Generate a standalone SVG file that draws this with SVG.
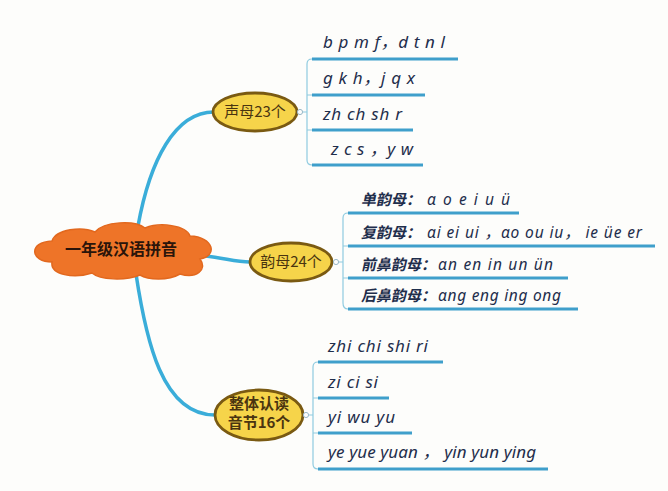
<svg xmlns="http://www.w3.org/2000/svg" width="668" height="491" viewBox="0 0 668 491">
<defs>
<style>
.bg{fill:#fdfdfb}
.branch{fill:none;stroke:#3aadd9;stroke-width:3.5;stroke-linecap:round}
.brk{fill:none;stroke:#8fcbe0;stroke-width:1.2}
.ul{stroke:#3f9fcb;stroke-width:3;stroke-linecap:butt}
.dot{fill:#fdfdfb;stroke:#9ab8c8;stroke-width:1}
.ell{fill:#f6d44a;stroke:#7a5a12;stroke-width:2.8}
.elt{font-family:"Noto Sans CJK SC","Noto Sans",sans-serif;font-size:15px;fill:#4a3410;text-anchor:middle}
.cloud{fill:#ee7428;stroke:#e2681e;stroke-width:1.5}
.ct{font-family:"Noto Sans CJK SC",sans-serif;font-size:16px;font-weight:bold;fill:#2a140a;text-anchor:middle}
.pt{font-family:"Noto Sans","Noto Sans CJK SC",sans-serif;font-style:italic;fill:#1f2e4c}
.cn{font-family:"Noto Sans CJK SC",sans-serif;font-size:15px;font-weight:bold;fill:#1f2e4c}
.big{font-size:17px}
.mid{font-size:15.5px}
</style>
</defs>
<rect class="bg" x="0" y="0" width="668" height="491"/>
<g id="connectors">
<path class="branch" d="M138,226 C150,160 175,112 214,112"/>
<path class="branch" d="M205,256 C225,258 235,262 250,262"/>
<path class="branch" d="M136,274 C146,340 162,415 215,415"/>
<path class="brk" d="M303,112 L307,112 M312,59 Q307,59 307,64 L307,160 Q307,165 312,165 M307,95 L312,95 M307,130 L312,130"/>
<path class="brk" d="M339,262 L343,262 M348,213 Q343,213 343,218 L343,303 Q343,309 348,309 M343,246 L348,246 M343,278 L348,278"/>
<path class="brk" d="M309,415 L313,415 M318,362 Q313,362 313,367 L313,464 Q313,469 318,469 M313,398 L318,398 M313,433 L318,433"/>
</g>
<g id="root">
<path class="cloud" d="M52,262 C30,262 28,242 52,241 C56,229 82,226 95,232 C104,221 135,220 145,228 C160,222 186,225 190,236 C214,237 218,256 200,259 C208,270 196,279 180,274 C168,281 148,280 140,275 C125,281 100,280 92,273 C74,279 50,275 52,262 Z"/>
<text class="ct" x="121" y="255">一年级汉语拼音</text>
</g>
<g id="shengmu">
<ellipse class="ell" cx="255" cy="112" rx="42" ry="19"/>
<text class="elt" x="255" y="117">声母23个</text>
<circle class="dot" cx="300" cy="112" r="2.6"/>
</g>
<g id="shengmu-items">
<line class="ul" x1="312" y1="59" x2="458" y2="59"/>
<text class="pt big" x="323" y="48" textLength="122" lengthAdjust="spacing">b p m f，d t n l</text>
<line class="ul" x1="312" y1="95" x2="425" y2="95"/>
<text class="pt big" x="323" y="84" textLength="92" lengthAdjust="spacing">g k h，j q x</text>
<line class="ul" x1="312" y1="130" x2="413" y2="130"/>
<text class="pt big" x="323" y="120" textLength="79" lengthAdjust="spacing">zh ch sh r</text>
<line class="ul" x1="312" y1="165" x2="423" y2="165"/>
<text class="pt big" x="331" y="155" textLength="82" lengthAdjust="spacing">z c s ，y w</text>
</g>
<g id="yunmu">
<ellipse class="ell" cx="291" cy="262" rx="41" ry="19"/>
<text class="elt" x="291" y="267">韵母24个</text>
<circle class="dot" cx="336" cy="262" r="2.6"/>
</g>
<g id="yunmu-items">
<line class="ul" x1="348" y1="213" x2="519" y2="213"/>
<text class="cn" transform="translate(361,205) skewX(-12)">单韵母：</text>
<text class="pt mid" x="427" y="205" textLength="83" lengthAdjust="spacing">ɑ o e i u ü</text>
<line class="ul" x1="348" y1="246" x2="655" y2="246"/>
<text class="cn" transform="translate(361,238) skewX(-12)">复韵母：</text>
<text class="pt mid" x="427" y="238" textLength="215" lengthAdjust="spacing">ɑi ei ui ，ɑo ou iu，  ie üe er</text>
<line class="ul" x1="348" y1="278" x2="568" y2="278"/>
<text class="cn" transform="translate(361,270) skewX(-12)">前鼻韵母：</text>
<text class="pt mid" x="438" y="270" textLength="115" lengthAdjust="spacing">ɑn en in un ün</text>
<line class="ul" x1="348" y1="309" x2="578" y2="309"/>
<text class="cn" transform="translate(361,301) skewX(-12)">后鼻韵母：</text>
<text class="pt mid" x="438" y="301" textLength="123" lengthAdjust="spacing">ɑng eng ing ong</text>
</g>
<g id="zhengti">
<ellipse class="ell" cx="259" cy="415" rx="44" ry="25"/>
<text class="elt" x="259" y="409" style="font-size:15px;font-weight:bold">整体认读</text>
<text class="elt" x="259" y="428" style="font-size:15px;font-weight:bold">音节16个</text>
<circle class="dot" cx="306" cy="415" r="2.6"/>
</g>
<g id="zhengti-items">
<line class="ul" x1="318" y1="362" x2="443" y2="362"/>
<text class="pt big" x="328" y="352" textLength="100" lengthAdjust="spacing">zhi chi shi ri</text>
<line class="ul" x1="318" y1="398" x2="389" y2="398"/>
<text class="pt big" x="328" y="388" textLength="50" lengthAdjust="spacing">zi ci si</text>
<line class="ul" x1="318" y1="433" x2="412" y2="433"/>
<text class="pt big" x="328" y="423" textLength="67" lengthAdjust="spacing">yi wu yu</text>
<line class="ul" x1="318" y1="469" x2="548" y2="469"/>
<text class="pt big" x="328" y="458" textLength="208" lengthAdjust="spacing">ye yue yuan ， yin yun ying</text>
</g>
</svg>
